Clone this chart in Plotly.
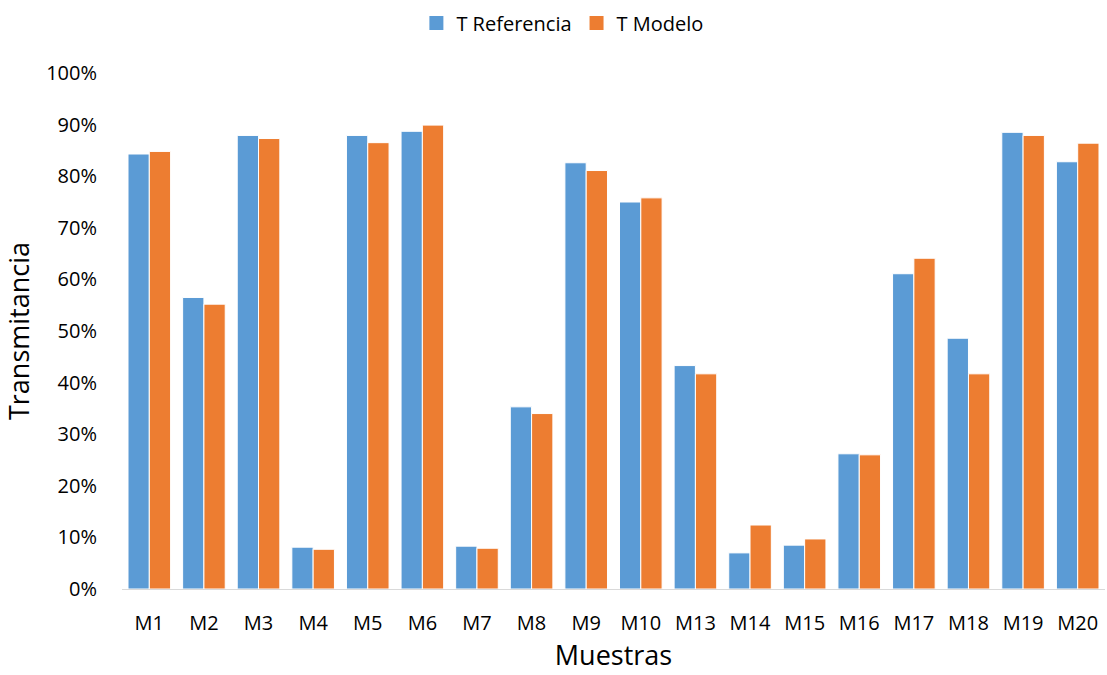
import plotly.graph_objects as go

muestras = ["M1", "M2", "M3", "M4", "M5", "M6", "M7", "M8", "M9", "M10",
            "M13", "M14", "M15", "M16", "M17", "M18", "M19", "M20"]
t_referencia = [0.843, 0.565, 0.879, 0.081, 0.879, 0.887, 0.083, 0.353, 0.826, 0.750,
                0.433, 0.070, 0.085, 0.262, 0.611, 0.486, 0.885, 0.828]
t_modelo = [0.848, 0.552, 0.873, 0.077, 0.865, 0.899, 0.079, 0.340, 0.811, 0.758,
            0.417, 0.124, 0.097, 0.260, 0.641, 0.417, 0.879, 0.864]
y_ticks = [0, 0.1, 0.2, 0.3, 0.4, 0.5, 0.6, 0.7, 0.8, 0.9, 1.0]

FONT = "Open Sans"
BLUE = "#5B9BD5"
ORANGE = "#ED7D31"

fig = go.Figure()
fig.add_trace(go.Bar(name="T Referencia", x=muestras, y=t_referencia, showlegend=False,
                     marker=dict(color=BLUE, line=dict(color="white", width=1))))
fig.add_trace(go.Bar(name="T Modelo", x=muestras, y=t_modelo, showlegend=False,
                     marker=dict(color=ORANGE, line=dict(color="white", width=1))))

# square legend keys
for name, color in [("T Referencia", BLUE), ("T Modelo", ORANGE)]:
    fig.add_trace(go.Scatter(name=name, x=[None], y=[None], mode="markers",
                             marker=dict(symbol="square", size=14, color=color)))

fig.update_layout(
    width=1107, height=675,
    barmode="group", bargap=0.22, bargroupgap=0.0,
    plot_bgcolor="white", paper_bgcolor="white",
    font=dict(family=FONT, size=21, color="#000000"),
    margin=dict(l=122, r=2, t=73, b=86),
    legend=dict(orientation="h", x=0.448, xanchor="center", y=0.995, yanchor="top",
                yref="container", font=dict(size=20), traceorder="normal",
                itemwidth=30),
    showlegend=True,
)
fig.update_xaxes(
    showline=True, linecolor="#D9D9D9", linewidth=1,
    showgrid=False, ticks="", ticklabelstandoff=16,
    tickfont=dict(size=20, family=FONT),
    title=dict(text="Muestras", font=dict(size=27, family=FONT), standoff=10),
)
fig.update_yaxes(
    range=[0, 1.0], tickvals=y_ticks, tickformat=".0%",
    showline=False, showgrid=False, zeroline=False, ticks="",
    ticklabelstandoff=24,
    tickfont=dict(size=20, family=FONT),
    title=dict(text="Transmitancia", font=dict(size=27, family=FONT), standoff=8),
)

fig.write_html("out.html")
